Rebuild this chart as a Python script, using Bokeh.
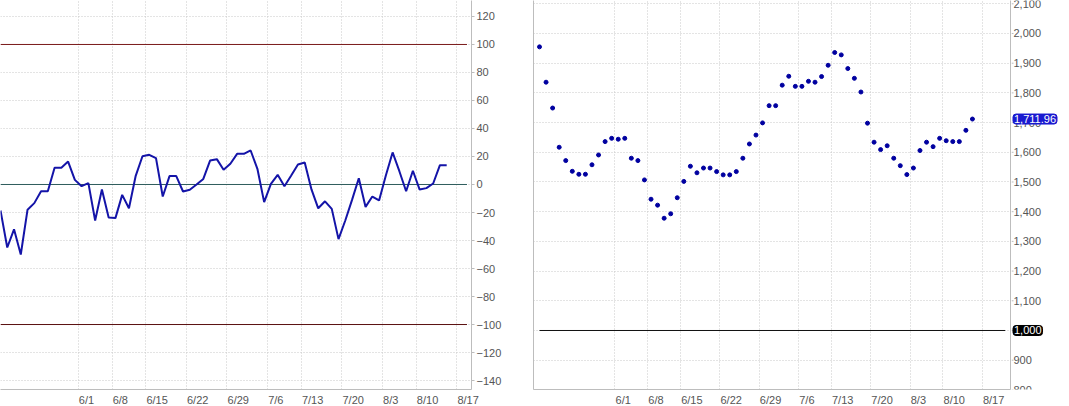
from bokeh.plotting import figure
from bokeh.models import Range1d, FixedTicker, Label, LinearAxis
from bokeh.layouts import row
from bokeh.core.properties import value
from bokeh.embed import file_html
from bokeh.resources import INLINE

# ---------------- data ----------------
osc = [-18.6, -45, -32, -50, -18, -13.3, -4.8, -4.8, 12, 12,
       16.4, 3.3, -1.2, 1, -25.7, -3.6, -23.6, -24, -7.4, -17,
       6.2, 20.2, 21.2, 18.8, -8.6, 6, 6, -5, -3.8, 0,
       4, 17.1, 18.1, 10.5, 14.8, 21.9, 21.9, 24.3, 11.2, -12.6,
       0.5, 6.9, -1.2, 6.4, 14.3, 15.7, -3.5, -17, -12, -17.4,
       -39, -25.7, -11, 4.5, -16, -8.6, -11.4, 6.4, 22.9, 9.5,
       -4.8, 9.8, -3.6, -2.6, 0.7, 13.8, 13.8]

price = [1955, 1836, 1749, 1617, 1572, 1536, 1526, 1526, 1558, 1591,
         1636, 1647, 1644, 1647, 1580, 1572, 1507, 1442, 1422, 1378,
         1393, 1447, 1502, 1553, 1531, 1547, 1547, 1535, 1524, 1524,
         1535, 1580, 1628, 1658, 1699, 1757, 1757, 1826, 1856, 1822,
         1822, 1839, 1836, 1855, 1893, 1936, 1928, 1882, 1849, 1803,
         1698, 1634, 1609, 1622, 1580, 1555, 1525, 1547, 1606, 1634,
         1619, 1647, 1639, 1636, 1636, 1674, 1711.96]

date_tick_pos = [11.5, 16.5, 21.5, 27.5, 33.5, 39.5, 44.5, 50.5, 56.5, 61.5, 67.5]
date_tick_labels = ["6/1", "6/8", "6/15", "6/22", "6/29", "7/6", "7/13", "7/20", "8/3", "8/10", "8/17"]

osc_ticks = list(range(-140, 121, 20))
price_ticks = list(range(800, 2101, 100))

osc_upper = 100
osc_mid = 0
osc_lower = -100
price_ref = 1000
last_label = "1,711.96"
ref_label = "1,000"

idx = list(range(len(osc)))
pidx = list(range(len(price)))

FONT = "Liberation Sans"
FS = 11
GRID = "#c8c8c8"
AXIS = "#bdbdbd"
LABEL = "#555555"


def text_half_px(s):
    # approximate Arial/Liberation Sans advance widths
    w = {"/": 0.278, ",": 0.278, ".": 0.278}
    return 0.5 * sum(w.get(c, 0.556) for c in s) * FS


def style(p, yticks, px_per_idx):
    p.background_fill_color = "white"
    p.border_fill_color = "white"
    p.outline_line_color = None
    # date labels start at the grid line (left aligned)
    lab_pos = [t + (0.6 + text_half_px(l)) / px_per_idx for t, l in zip(date_tick_pos, date_tick_labels)]
    p.xaxis.ticker = FixedTicker(ticks=lab_pos)
    p.xaxis.major_label_overrides = {a: l for a, l in zip(lab_pos, date_tick_labels)}
    p.xgrid.ticker = FixedTicker(ticks=date_tick_pos)
    p.yaxis.ticker = FixedTicker(ticks=yticks)
    p.ygrid.ticker = FixedTicker(ticks=yticks)
    for g in (p.xgrid, p.ygrid):
        g.grid_line_color = GRID
        g.grid_line_dash = "1 2"
        g.grid_line_width = 1
    for ax in (p.xaxis, p.yaxis):
        ax.axis_line_color = AXIS
        ax.major_tick_line_color = AXIS
        ax.minor_tick_line_color = None
        ax.major_label_text_font = FONT
        ax.major_label_text_font_size = f"{FS}px"
        ax.major_label_text_color = LABEL
    p.xaxis.major_tick_out = 0
    p.xaxis.major_tick_in = 0
    p.xaxis.major_label_standoff = 4
    p.yaxis.major_tick_out = 3
    p.yaxis.major_tick_in = 0
    p.yaxis.major_label_standoff = 2


# ---------------- left panel: oscillator ----------------
p1 = figure(frame_width=471, frame_height=389,
            x_range=Range1d(0, 69.67), y_range=Range1d(-146.4, 131.4),
            y_axis_location="right", toolbar_location=None, output_backend="svg",
            min_border_left=0, min_border_right=54, min_border_top=0, min_border_bottom=17)
style(p1, osc_ticks, 6.76)

lvl_x = [idx[0], idx[-1] + 3]
p1.line(lvl_x, [osc_upper] * 2, line_color="#7a1a1a", line_width=1)
p1.line(lvl_x, [osc_lower] * 2, line_color="#5a1010", line_width=1)
p1.line(lvl_x, [osc_mid] * 2, line_color="#2f5d5d", line_width=1)
p1.line(idx, osc, line_color="#1414a8", line_width=2)

# ---------------- right panel: price ----------------
p2 = figure(frame_width=477, frame_height=389,
            x_range=Range1d(-0.915, 71.8), y_range=Range1d(801.3, 2111.1),
            y_axis_location="right", toolbar_location=None, output_backend="svg",
            min_border_left=8, min_border_right=1, min_border_top=0, min_border_bottom=17)
style(p2, price_ticks, 6.56)
# the price scale labels and ticks are drawn in the narrow panel p3
p2.yaxis.ticker = FixedTicker(ticks=[])
p2.yaxis.major_tick_out = 0
p2.yaxis.major_label_standoff = 0

left_edge = LinearAxis(ticker=FixedTicker(ticks=[]),
                       major_tick_out=0, major_tick_in=0, major_label_standoff=0,
                       minor_tick_line_color=None, axis_line_color=AXIS)
p2.add_layout(left_edge, "left")

p2.line([pidx[0], pidx[-1] + 5], [price_ref] * 2, line_color="#111111", line_width=1)
p2.scatter(pidx, price, size=4, fill_color="#0000a0", line_color="#0000a0")

# ---------------- right price scale (ticks, labels, value tags) ----------------
p3 = figure(frame_width=58, frame_height=389,
            x_range=Range1d(0, 58), y_range=p2.y_range,
            x_axis_type=None, y_axis_type=None, toolbar_location=None, output_backend="svg",
            min_border_left=0, min_border_right=0, min_border_top=0, min_border_bottom=17)
p3.background_fill_color = "white"
p3.border_fill_color = "white"
p3.outline_line_color = None
p3.grid.visible = False
p3.segment(x0=[0] * len(price_ticks), x1=[2] * len(price_ticks), y0=price_ticks, y1=price_ticks,
           line_color=AXIS, line_width=1)
p3.text(x=[2] * len(price_ticks), y=price_ticks, text=[f"{v:,}" for v in price_ticks],
        text_font=value(FONT), text_font_size=f"{FS}px", text_color=LABEL,
        text_baseline="middle", text_align="left")

p3.add_layout(Label(x=1.5, y=price[-1], text=last_label,
                    text_baseline="middle", text_align="left",
                    text_font=FONT, text_font_size="11px", text_color="white",
                    background_fill_color="#1a1ad0", border_line_color="#1a1ad0",
                    padding=1, border_radius=3))
p3.add_layout(Label(x=1.5, y=price_ref, text=ref_label,
                    text_baseline="middle", text_align="left",
                    text_font=FONT, text_font_size="11px", text_color="white",
                    background_fill_color="#000000", border_line_color="#000000",
                    padding=1, border_radius=3))

layout = row(p1, p2, p3)
open("out.html", "w").write(file_html(layout, INLINE))
